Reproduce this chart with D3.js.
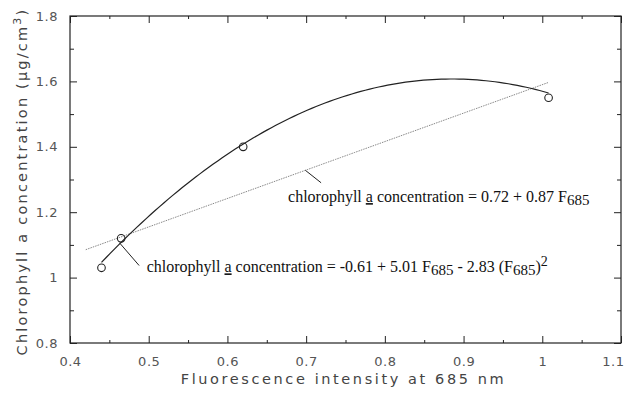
<!DOCTYPE html>
<html>
<head>
<meta charset="utf-8">
<script src="https://cdn.jsdelivr.net/npm/d3@7"></script>
<style>
  html, body { margin: 0; padding: 0; background: #fff; }
  svg { display: block; }
</style>
</head>
<body>
<svg id="chart" width="624" height="398"></svg>
<script>
// Measured samples: fluorescence intensity at 685 nm vs chlorophyll a
const fluorescence = [0.44, 0.465, 0.62, 1.008];
const chlorophyll  = [1.03, 1.12, 1.40, 1.55];

// Fitted models (coefficients as printed in the annotations)
const linearCoef    = [0.72, 0.87];          // a + b F
const quadraticCoef = [-0.61, 5.01, -2.83];  // a + b F + c F^2
const linearRange    = [0.42, 1.008];
const quadraticRange = [0.44, 1.008];

// Axis ticks
const xTicks = [0.4, 0.5, 0.6, 0.7, 0.8, 0.9, 1.0, 1.1];
const xTickLabels = ["0.4", "0.5", "0.6", "0.7", "0.8", "0.9", "1", "1.1"];
const xMinorTicks = [0.45, 0.55, 0.65, 0.75, 0.85, 0.95, 1.05];
const yTicks = [0.8, 1.0, 1.2, 1.4, 1.6, 1.8];
const yTickLabels = ["0.8", "1", "1.2", "1.4", "1.6", "1.8"];
const yMinorTicks = [0.9, 1.1, 1.3, 1.5, 1.7];

const svg = d3.select("#chart");
const m = { left: 70, top: 16, right: 3, bottom: 55 };
const W = 624, H = 398;

const x = d3.scaleLinear().domain([0.4, 1.1]).range([m.left, W - m.right]);
const y = d3.scaleLinear().domain([0.8, 1.8]).range([H - m.bottom, m.top]);

const ink = "#222";
const tickFont = "'DejaVu Sans', sans-serif";

// Frame
svg.append("rect")
  .attr("x", x(0.4)).attr("y", y(1.8))
  .attr("width", x(1.1) - x(0.4)).attr("height", y(0.8) - y(1.8))
  .attr("fill", "none").attr("stroke", ink).attr("stroke-width", 1.2);

function styleAxis(g, showLabels) {
  g.select(".domain").remove();
  g.selectAll(".tick line").attr("stroke", ink).attr("stroke-width", 1);
  g.selectAll(".tick text")
    .attr("fill", "#555")
    .style("font-family", tickFont)
    .style("font-size", "13px")
    .style("letter-spacing", "0.5px");
  if (!showLabels) g.selectAll(".tick text").remove();
}

// Bottom axis: inward ticks, labels below
svg.append("g").attr("transform", `translate(0,${y(0.8)})`)
  .call(d3.axisBottom(x).tickValues(xTicks).tickSize(-7).tickPadding(14)
        .tickFormat((d, i) => xTickLabels[i]))
  .call(g => styleAxis(g, true))
  .call(g => g.selectAll(".tick:last-of-type text")
                .attr("text-anchor", "end").attr("dx", 3));
svg.append("g").attr("transform", `translate(0,${y(0.8)})`)
  .call(d3.axisBottom(x).tickValues(xMinorTicks).tickSize(-3).tickFormat(""))
  .call(g => styleAxis(g, false));

// Top axis: inward ticks only
svg.append("g").attr("transform", `translate(0,${y(1.8)})`)
  .call(d3.axisTop(x).tickValues(xTicks).tickSize(-7).tickFormat(""))
  .call(g => styleAxis(g, false));
svg.append("g").attr("transform", `translate(0,${y(1.8)})`)
  .call(d3.axisTop(x).tickValues(xMinorTicks).tickSize(-3).tickFormat(""))
  .call(g => styleAxis(g, false));

// Left axis
svg.append("g").attr("transform", `translate(${x(0.4)},0)`)
  .call(d3.axisLeft(y).tickValues(yTicks).tickSize(-7).tickPadding(12)
        .tickFormat((d, i) => yTickLabels[i]))
  .call(g => styleAxis(g, true));
svg.append("g").attr("transform", `translate(${x(0.4)},0)`)
  .call(d3.axisLeft(y).tickValues(yMinorTicks).tickSize(-4).tickFormat(""))
  .call(g => styleAxis(g, false));

// Right axis
svg.append("g").attr("transform", `translate(${x(1.1)},0)`)
  .call(d3.axisRight(y).tickValues(yTicks).tickSize(-7).tickFormat(""))
  .call(g => styleAxis(g, false));
svg.append("g").attr("transform", `translate(${x(1.1)},0)`)
  .call(d3.axisRight(y).tickValues(yMinorTicks).tickSize(-4).tickFormat(""))
  .call(g => styleAxis(g, false));

// Fit curves
const linearFit = f => linearCoef[0] + linearCoef[1] * f;
const quadraticFit = f => quadraticCoef[0] + quadraticCoef[1] * f + quadraticCoef[2] * f * f;
const sampleFit = (fn, [a, b]) => d3.range(0, 101).map(i => {
  const f = a + (b - a) * i / 100;
  return [f, fn(f)];
});
const line = d3.line().x(d => x(d[0])).y(d => y(d[1]));

svg.append("path")
  .datum(sampleFit(linearFit, linearRange))
  .attr("d", line)
  .attr("fill", "none").attr("stroke", "#888").attr("stroke-width", 1)
  .attr("stroke-dasharray", "1.5,1");

svg.append("path")
  .datum(sampleFit(quadraticFit, quadraticRange))
  .attr("d", line)
  .attr("fill", "none").attr("stroke", ink).attr("stroke-width", 1.2);

// Observations
svg.selectAll("circle.obs")
  .data(fluorescence.map((f, i) => [f, chlorophyll[i]]))
  .join("circle")
  .attr("class", "obs")
  .attr("cx", d => x(d[0])).attr("cy", d => y(d[1]))
  .attr("r", 3.8)
  .attr("fill", "none").attr("stroke", ink).attr("stroke-width", 1.1);

// Leader lines from each fit to its equation
const leaders = [
  { from: [0.699, linearFit(0.699)], to: [0.719, 1.290] },
  { from: [0.4636, quadraticFit(0.4636)], to: [0.4878, 1.037] }
];
svg.selectAll("line.leader")
  .data(leaders)
  .join("line")
  .attr("class", "leader")
  .attr("x1", d => x(d.from[0])).attr("y1", d => y(d.from[1]))
  .attr("x2", d => x(d.to[0])).attr("y2", d => y(d.to[1]))
  .attr("stroke", ink).attr("stroke-width", 1);

// Equation annotations
const eqFont = "'Liberation Serif', 'Times New Roman', serif";
function addEquation(px, py, parts) {
  const t = svg.append("text")
    .attr("x", x(px)).attr("y", y(py))
    .attr("fill", "#111")
    .style("font-family", eqFont)
    .style("font-size", "16px");
  parts.forEach(p => {
    const s = t.append("tspan").text(p.text);
    if (p.sub) s.attr("baseline-shift", "-3").style("font-size", "15px");
    if (p.sup) s.attr("baseline-shift", "6").style("font-size", "14px");
    if (p.u) s.attr("text-decoration", "underline");
  });
}

addEquation(0.677, 1.231, [
  { text: "chlorophyll " }, { text: "a", u: true },
  { text: " concentration = " + linearCoef[0] + " + " + linearCoef[1] + " F" },
  { text: "685", sub: true }
]);

addEquation(0.4975, 1.016, [
  { text: "chlorophyll " }, { text: "a", u: true },
  { text: " concentration = " + quadraticCoef[0] + " + " + quadraticCoef[1] + " F" },
  { text: "685", sub: true },
  { text: " - " + Math.abs(quadraticCoef[2]) + " (F" },
  { text: "685", sub: true },
  { text: ")" },
  { text: "2", sup: true }
]);

// Axis titles
const titleStyle = t => t
  .attr("fill", "#444")
  .style("font-family", tickFont)
  .style("font-size", "14.5px")
  .style("letter-spacing", "2.6px");

svg.append("text")
  .attr("x", (x(0.4) + x(1.1)) / 2 - 2).attr("y", 384)
  .attr("text-anchor", "middle")
  .text("Fluorescence intensity at 685 nm")
  .call(titleStyle);

const yt = svg.append("text")
  .attr("transform", `translate(27,${(y(0.8) + y(1.8)) / 2 + 2}) rotate(-90)`)
  .attr("text-anchor", "middle")
  .call(titleStyle)
  .style("letter-spacing", "2.2px");
yt.append("tspan").text("Chlorophyll a concentration  (μg/cm");
yt.append("tspan").text("3").attr("baseline-shift", "6").style("font-size", "11px");
yt.append("tspan").text(")");
</script>
</body>
</html>
